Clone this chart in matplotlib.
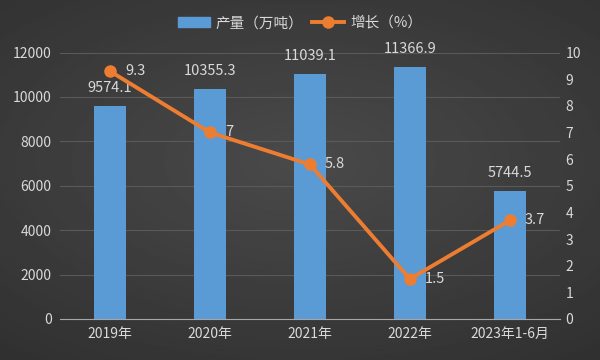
import numpy as np
import matplotlib
matplotlib.use("Agg")
import matplotlib.pyplot as plt
from matplotlib.patches import Patch
from matplotlib.lines import Line2D

plt.rcParams["font.family"] = ["Noto Sans CJK SC", "DejaVu Sans"]

categories = ["2019年", "2020年", "2021年", "2022年", "2023年1-6月"]
output = [9574.1, 10355.3, 11039.1, 11366.9, 5744.5]
growth = [9.3, 7, 5.8, 1.5, 3.7]
growth_labels = ["9.3", "7", "5.8", "1.5", "3.7"]

text_c = "#d9d9d9"
fig = plt.figure(figsize=(6, 3.6), dpi=100)

# dark radial-ish background
bg = fig.add_axes([0, 0, 1, 1], zorder=-10)
yy, xx = np.mgrid[0:1:200j, 0:1:300j]
r = np.sqrt(((xx - 0.5) / 0.8) ** 2 + ((yy - 0.45) / 0.7) ** 2)
bg.imshow(0.29 - 0.1 * r, cmap="gray", vmin=0, vmax=1, aspect="auto", extent=[0, 1, 0, 1])
bg.axis("off")

ax = fig.add_axes([0.1, 0.114, 0.833, 0.74])
ax.patch.set_alpha(0)
x = np.arange(len(categories))
ax.bar(x, output, width=0.32, color="#5b9bd5", zorder=2)
ax.set_xlim(-0.5, len(categories) - 0.5)
ax.set_ylim(0, 12000)
ax.set_yticks(range(0, 12001, 2000))
ax.grid(axis="y", color="#5a5a5a", lw=0.8, zorder=0)
for s in ["top", "right", "left"]:
    ax.spines[s].set_visible(False)
ax.spines["bottom"].set_color("#a6a6a6")
ax.tick_params(colors=text_c, labelsize=10, length=0, pad=6)
ax.set_xticks(x)
ax.set_xticklabels(categories)
for xi, v in zip(x, output):
    ax.text(xi, v + 500, f"{v:.1f}", ha="center", va="bottom", color=text_c, fontsize=10.5)

ax2 = ax.twinx()
ax2.set_ylim(0, 10)
ax2.set_yticks(range(0, 11))
for s in ax2.spines.values():
    s.set_visible(False)
ax2.tick_params(colors=text_c, labelsize=10, length=0, pad=4)
ax2.plot(x, growth, color="#ed7d31", lw=2.8, marker="o", ms=8, zorder=3)
for xi, v, t in zip(x, growth, growth_labels):
    ax2.text(xi + 0.15, v, t, ha="left", va="center", color=text_c, fontsize=10.5)

handles = [Patch(color="#5b9bd5"), Line2D([], [], color="#ed7d31", lw=2.8, marker="o", ms=8)]
fig.legend(handles, ["产量（万吨）", "增长（%）"], loc="center", bbox_to_anchor=(0.5, 0.935),
           ncol=2, frameon=False, labelcolor=text_c, fontsize=10.5, handlelength=2.2,
           columnspacing=0.6, handletextpad=0.4)

fig.savefig("out.png", dpi=100)
